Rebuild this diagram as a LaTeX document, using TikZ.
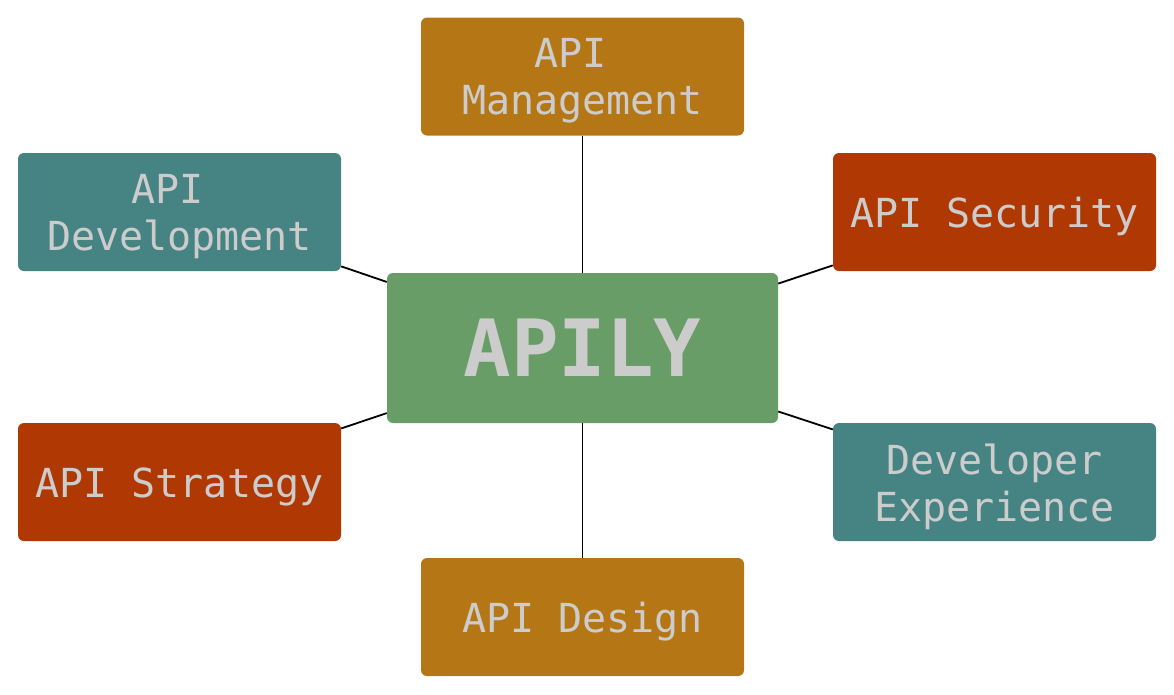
\documentclass[tikz,border=0pt]{standalone}
\usepackage{fontspec}
\setmonofont{DejaVu Sans Mono}
\definecolor{cgold}{HTML}{B57716}
\definecolor{cteal}{HTML}{468383}
\definecolor{cred}{HTML}{AF3803}
\definecolor{cgreen}{HTML}{689D68}
\definecolor{ctext}{HTML}{CCCCCC}
\tikzset{
  box/.style={rounded corners=6pt, minimum width=323pt, minimum height=118pt, inner sep=0pt},
  lbl/.style={inner sep=0pt, align=center, text=ctext, font=\ttfamily\fontsize{40}{47}\selectfont},
  hub/.style={fill=cgreen, rounded corners=6pt, minimum width=391pt, minimum height=150pt, inner sep=0pt, text=ctext, font=\ttfamily\bfseries\fontsize{79}{90}\selectfont},
  link/.style={line width=1.8pt, black}
}
\begin{document}
\begin{tikzpicture}[x=1pt,y=-1pt]
\useasboundingbox (0,0) rectangle (1174,694);
\node[hub] (c) at (582.5,348) {APILY};
\node[box, fill=cgold] (mgmt) at (582.5,76.5) {};
\node[box, fill=cteal] (dev) at (179.5,212) {};
\node[box, fill=cred] (sec) at (994.5,212) {};
\node[box, fill=cred] (str) at (179.5,482) {};
\node[box, fill=cteal] (dx) at (994.5,482) {};
\node[box, fill=cgold] (des) at (582.5,617) {};
\node[lbl] (mgmt-t) at ([yshift=-4.5pt]mgmt.center) {API\phantom{I}\\Management};
\node[lbl] (dev-t) at ([yshift=-4.5pt]dev.center) {API\phantom{I}\\Development};
\node[lbl] (sec-t) at ([yshift=-4.5pt]sec.center) {API Security};
\node[lbl] (str-t) at ([yshift=-4.5pt]str.center) {API Strategy};
\node[lbl] (dx-t) at ([yshift=-4.5pt]dx.center) {Developer\\Experience};
\node[lbl] (des-t) at ([yshift=-4.5pt]des.center) {API Design};
\foreach \n in {mgmt,dev,sec,str,dx,des} \draw[link] (c) -- (\n);
\end{tikzpicture}
\end{document}
